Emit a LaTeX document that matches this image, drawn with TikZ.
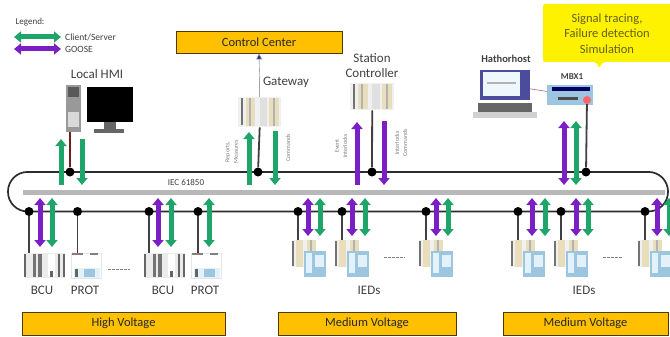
\documentclass[tikz,border=0pt]{standalone}
\usepackage{fontspec}
\setmainfont{Carlito}
\usetikzlibrary{arrows.meta}
\definecolor{gflow}{HTML}{1FA56A}
\definecolor{pflow}{HTML}{7A1FC4}
\definecolor{amber}{HTML}{FFC000}
\definecolor{ink}{HTML}{404040}
\definecolor{blueied}{HTML}{9CC6E0}
\definecolor{paleied}{HTML}{E3F2FA}
\definecolor{tan}{HTML}{E8DEBC}
\tikzset{
  flowtip/.style={line width=5pt},
  both/.style={flowtip,{Triangle[width=11pt,length=7pt]}-{Triangle[width=11pt,length=7pt]}},
  upw/.style={flowtip,{Triangle[width=11pt,length=7pt]}-},
  dnw/.style={flowtip,-{Triangle[width=11pt,length=7pt]}},
  banner/.style={draw=black!70!amber,line width=.8pt,fill=amber,inner sep=0pt,font=\fontsize{12.5}{14}\selectfont,text=ink!60!black},
  lab/.style={inner sep=0pt,font=\fontsize{13}{15}\selectfont,text=ink,align=center},
  tiny/.style={inner sep=0pt,font=\fontsize{6}{7}\selectfont,text=black!50,rotate=90,align=center},
  legendtext/.style={inner sep=0pt,anchor=west,font=\fontsize{9.5}{11}\selectfont,text=ink},
  tap/.style={circle,fill=black,inner sep=0pt,minimum size=9pt},
  stub/.style={line width=1.8pt,draw=ink},
  dashes/.style={line width=.8pt,draw=black!50,dash pattern=on 2.5pt off 1.5pt},
}
% rack device: name, left x, top y, width, height
\newcommand\rackdev[5]{%
  \node[fill=black!6,inner sep=0pt,minimum width=#4pt,minimum height=#5pt,anchor=north west] (#1) at (#2,#3) {};
  \begin{scope}[shift={(#2,#3)}]
    \fill[black!55] (.06*#4,.05*#5) rectangle (.12*#4,.95*#5);
    \fill[tan] (.18*#4,.03*#5) rectangle (.4*#4,.97*#5);
    \fill[black!30] (.25*#4,.03*#5) rectangle (.3*#4,.97*#5);
    \fill[black!12] (.5*#4,.03*#5) rectangle (.68*#4,.97*#5);
    \fill[tan] (.72*#4,.03*#5) rectangle (.96*#4,.97*#5);
    \fill[black!30] (.82*#4,.03*#5) rectangle (.87*#4,.97*#5);
  \end{scope}}
% BCU: name, left x
\newcommand\bcudev[2]{%
  \node[fill=black!8,inner sep=0pt,minimum width=41pt,minimum height=25pt,anchor=north west] (#1) at (#2,253) {};
  \begin{scope}[shift={(#2,253)}]
    \fill[black!60] (0,1) rectangle (2,24);
    \fill[black!55] (9,1) rectangle (12,24);
    \fill[black!55] (14,1) rectangle (18,24);
    \fill[white] (24,1) rectangle (31,24);
    \fill[black!60] (34,1) rectangle (36,24);
    \fill[black!60] (39,1) rectangle (41,24);
    \fill[black!60] (26,18) rectangle (29,24);
  \end{scope}}
% PROT: name, left x
\newcommand\protdev[2]{%
  \node[draw=black!10,fill=white,inner sep=0pt,minimum width=30pt,minimum height=25pt,anchor=north west] (#1) at (#2,253) {};
  \begin{scope}[shift={(#2,253)}]
    \fill[black!50] (1,0) rectangle (12,1.5);
    \fill[red!60!black!60] (4,0) rectangle (8,1.2);
    \fill[black!50] (19,0) rectangle (27,1.5);
    \fill[paleied] (3,15) rectangle (29,25);
    \fill[blueied] (13,16) rectangle (24,24);
    \fill[black!60] (4,16) rectangle (7,24);
  \end{scope}}
% IED: name, left x
\newcommand\ieddev[2]{%
  \node[inner sep=0pt,minimum width=34pt,minimum height=37pt,anchor=north west] (#1) at (#2,240) {};
  \begin{scope}[shift={(#2,240)}]
    \fill[black!6] (0,0) rectangle (24,27);
    \fill[black!55] (0,1) rectangle (1.5,26);
    \fill[tan] (4,0) rectangle (11,27);
    \fill[tan] (15,0) rectangle (24,11);
    \fill[black!30] (18,0) rectangle (20,11);
    \fill[blueied] (12,11) rectangle (34,37);
    \fill[paleied] (14,13) rectangle (20,33);
    \fill[paleied] (23,15) rectangle (32,27);
  \end{scope}}
% flow arrow: name, style, colour, x, y1, y2
\newcommand\flow[6]{%
  \coordinate (#1a) at (#4,#5);
  \coordinate (#1b) at (#4,#6);
  \draw[#2,#3] (#1a) -- (#1b);}
\begin{document}
\begin{tikzpicture}[x=1pt,y=-1pt]
\useasboundingbox (0,0) rectangle (670,337);
\clip (0,0) rectangle (670,337);
\fill[white] (0,0) rectangle (670,337);

% legend
\node[legendtext,anchor=center,font=\fontsize{9}{10}\selectfont] (legend) at (30,22) {Legend:};
\coordinate (lga) at (14,37); \coordinate (lgb) at (61,37);
\coordinate (lpa) at (14,49); \coordinate (lpb) at (61,49);
\draw[both,gflow] (lga) -- (lgb);
\draw[both,pflow] (lpa) -- (lpb);
\node[legendtext] (lgt) at (65,37) {Client/Server};
\node[legendtext] (lpt) at (65,49) {GOOSE};

% bus
\node[draw=ink!70!black,line width=1.7pt,rounded corners=19.5pt,minimum width=660pt,minimum height=39.5pt,inner sep=0pt] (bus) at (338,191.7) {};
\fill[black!28] (23,189.5) rectangle (665,194.5);
\node[inner sep=0pt,font=\fontsize{9}{10}\selectfont,text=ink] (iec) at (186,182) {IEC 61850};

% banners
\node[banner,minimum width=166pt,minimum height=22pt] (cc) at (259,42) {Control Center};
\node[banner,minimum width=203pt,minimum height=23pt] (hv) at (123.5,323.5) {High Voltage};
\node[banner,minimum width=178pt,minimum height=23pt] (mv1) at (367,323.5) {Medium Voltage};
\node[banner,minimum width=165pt,minimum height=23pt] (mv2) at (585.5,323.5) {Medium Voltage};

% yellow note
\fill[yellow,rounded corners=2pt] (543,4) -- (672,4) -- (672,62) -- (603,62) -- (599,68) -- (596,62) -- (543,62) -- cycle;
\node[inner sep=0pt,align=center,font=\fontsize{12.5}{15.5}\selectfont,text=ink!50!olive] (note) at (607,33.5) {Signal tracing,\\Failure detection\\Simulation};

% local HMI
\node[lab] (hmi) at (97,74) {Local HMI};
\node[fill=black!40,inner sep=0pt,minimum width=15pt,minimum height=47pt] (tower) at (73.5,108.5) {};
\fill[black!15] (68,112) rectangle (79,127);
\fill[black!65] (68,87) rectangle (79,97);
\node[fill=black,inner sep=0pt,minimum width=46pt,minimum height=35pt] (screen) at (110,104.5) {};
\fill[black!60] (104,122) rectangle (116,129);
\fill[black!60] (94,129) rectangle (124,133);

% gateway
\node[lab] (gwl) at (286,82) {Gateway};
\rackdev{gw}{238}{97}{43}{30}
\node[tiny] (gwt1) at (228,152) {Reports,};
\node[tiny] (gwt2) at (236,152) {Measures};
\node[tiny] (gwt3) at (288,148) {Commands};

% station controller
\node[lab] (scl) at (372,66) {Station\\Controller};
\rackdev{sc}{350}{83}{44}{27}
\node[tiny] (sct1) at (337,146) {Event};
\node[tiny] (sct2) at (345,146) {Interlocks};
\node[tiny] (sct3) at (397,143) {Interlocks};
\node[tiny] (sct4) at (405,143) {Commands};

% laptop
\node[inner sep=0pt,font=\bfseries\fontsize{10.5}{12}\selectfont,text=ink] (lapl) at (506,59) {Hathorhost};
\node[fill=black!55!blue!70!white,inner sep=0pt,minimum width=50pt,minimum height=30pt] (lap) at (505,85) {};
\fill[paleied!60!white] (483,72.5) rectangle (520,96.5);
\fill[black!30] (487,82) rectangle (516,84);
\fill[black!60] (478,103) rectangle (532,112);
\fill[black!18] (473,112) rectangle (537,118);

% MBX1
\node[inner sep=0pt,font=\bfseries\fontsize{9}{10}\selectfont,text=ink] (mbxl) at (572,77) {MBX1};
\node[fill=blueied,inner sep=0pt,minimum width=46pt,minimum height=20pt] (mbx) at (570,95) {};
\fill[black!60!blue] (552,87) rectangle (590,91);
\fill[black!70] (558,97) rectangle (578,100);
\node[fill=red!60,inner sep=0pt,minimum size=8pt,circle] (port) at (587,100) {};
\draw[line width=.6pt,draw=red!50!black!60] (lap) -- (mbx);

% tap dots
\foreach \n/\x in {thmi/70,tgw/258,tsc/372,tmb/586}
  \node[tap] (\n) at (\x,172) {};
\foreach \n/\x in {b1/29,p1/77.5,b2/149,p2/198,i1/298,i2/342,i3/426,j1/518,j2/561,j3/645}
  \node[tap] (\n) at (\x,211.5) {};

% bottom devices
\bcudev{bcua}{24}
\protdev{prota}{71}
\bcudev{bcub}{144}
\protdev{protb}{191}
\ieddev{ia}{292}
\ieddev{ib}{335}
\ieddev{ic}{419}
\ieddev{ja}{511}
\ieddev{jb}{554}
\ieddev{jc}{638}

\node[lab] at (42,290) (l1) {BCU};
\node[lab] at (85,290) (l2) {PROT};
\node[lab] at (163,290) (l3) {BCU};
\node[lab] at (205,290) (l4) {PROT};
\node[lab] at (369,290) (l5) {IEDs};
\node[lab] at (584,290) (l6) {IEDs};

\coordinate (d1a) at (108,269); \coordinate (d1b) at (130,269);
\coordinate (d2a) at (384,257); \coordinate (d2b) at (405,257);
\coordinate (d3a) at (603,257); \coordinate (d3b) at (623,257);
\draw[dashes] (d1a) -- (d1b);
\draw[dashes] (d2a) -- (d2b);
\draw[dashes] (d3a) -- (d3b);

% stubs
\draw[stub,draw=ink!60!red!80!black] (tower.south) ++(-3.5,0) coordinate (tw) (tw) -- (thmi);
\draw[line width=.6pt,draw=black!35] (gw.north) -- ++(0,-20) coordinate (gwm);
\draw[line width=.6pt,draw=black!35,-{Triangle[width=6pt,length=6pt,fill=ink!60!blue]}] (gwm) -- (cc.south);
\draw[stub] (tgw) -- (gw.south);
\draw[stub] (tsc) -- (sc.south);
\draw[stub] (tmb) -- (port);
\draw[stub] (b1) -- (bcua.north -| b1);
\draw[stub] (p1) -- (prota.north -| p1);
\draw[stub] (b2) -- (bcub.north -| b2);
\draw[stub] (p2) -- (protb.north -| p2);
\foreach \n/\d in {i1/ia,i2/ib,i3/ic,j1/ja,j2/jb,j3/jc}
  \draw[stub] (\n) -- (\d.north -| \n);

% flows
\flow{h1}{upw}{gflow}{61}{139}{185}
\flow{h2}{dnw}{gflow}{82}{139}{185}
\flow{g1}{upw}{gflow}{249}{132}{185}
\flow{g2}{dnw}{gflow}{275}{131}{185}
\flow{s1}{upw}{pflow}{357}{122}{185}
\flow{s2}{dnw}{pflow}{384}{121}{185}
\flow{m1}{both}{pflow}{564}{121}{185}
\flow{m2}{both}{gflow}{576}{121}{185}
\flow{a1}{both}{pflow}{40}{198}{247}
\flow{a2}{both}{gflow}{52}{198}{247}
\flow{a3}{both}{pflow}{158}{198}{247}
\flow{a4}{both}{gflow}{171}{198}{247}
\flow{a5}{both}{gflow}{209}{198}{247}
\flow{c1}{both}{pflow}{308}{198}{236}
\flow{c2}{both}{gflow}{320}{198}{236}
\flow{c3}{both}{pflow}{352}{198}{236}
\flow{c4}{both}{gflow}{365}{198}{236}
\flow{c5}{both}{pflow}{436}{198}{236}
\flow{c6}{both}{gflow}{448}{198}{236}
\flow{e1}{both}{pflow}{532}{198}{236}
\flow{e2}{both}{gflow}{545}{198}{236}
\flow{e3}{both}{pflow}{576}{198}{236}
\flow{e4}{both}{gflow}{588}{198}{236}
\flow{e5}{both}{pflow}{657}{198}{236}
\flow{e6}{both}{gflow}{669}{198}{236}
\end{tikzpicture}
\end{document}
